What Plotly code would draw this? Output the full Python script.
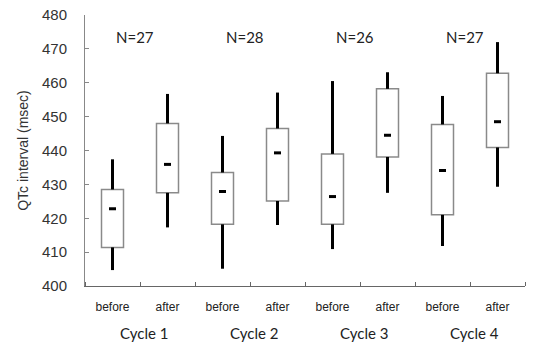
import plotly.graph_objects as go

cycles = ["Cycle 1", "Cycle 2", "Cycle 3", "Cycle 4"]
n_labels = ["N=27", "N=28", "N=26", "N=27"]
phases = ["before", "after"] * 4
whisker_low = [404.7, 417.3, 405.1, 418.0, 410.9, 427.5, 411.8, 429.3]
q1 = [411.4, 427.5, 418.2, 425.1, 418.2, 438.1, 421.0, 440.9]
median = [422.8, 435.9, 427.9, 439.3, 426.4, 444.5, 434.1, 448.5]
q3 = [428.5, 448.0, 433.5, 446.5, 439.0, 458.2, 447.7, 462.8]
whisker_high = [437.4, 456.7, 444.3, 457.1, 460.5, 463.1, 456.1, 472.0]

xpos = list(range(len(phases)))

fig = go.Figure()

# whiskers (upper and lower segments)
wx, wy = [], []
for i in xpos:
    wx += [i, i, None, i, i, None]
    wy += [q3[i], whisker_high[i], None, whisker_low[i], q1[i], None]
fig.add_trace(go.Scatter(x=wx, y=wy, mode="lines",
                         line=dict(color="black", width=3), hoverinfo="skip"))

# boxes
fig.add_trace(go.Bar(x=xpos, base=q1, y=[b - a for a, b in zip(q1, q3)],
                     width=0.4, marker=dict(color="white",
                                            line=dict(color="#8a8a8a", width=1.5))))

# median marks
fig.add_trace(go.Scatter(x=xpos, y=median, mode="markers",
                         marker=dict(symbol="line-ew-open", size=5, color="black",
                                     line=dict(color="black", width=3))))

for k, c in enumerate(cycles):
    center = 2 * k + 0.5
    fig.add_annotation(x=center - 0.1, y=473.5, text=n_labels[k], showarrow=False,
                       xref="x", yref="y", yanchor="middle",
                       font=dict(family="Lato", size=15, color="#222"))
    fig.add_annotation(x=center + 0.08, y=0, yref="paper", yshift=-47, text=c,
                       showarrow=False, xref="x", yanchor="middle",
                       font=dict(family="Lato", size=15, color="#222"))

fig.update_layout(
    width=542, height=342, showlegend=False,
    plot_bgcolor="white", paper_bgcolor="white",
    margin=dict(l=85, r=17, t=15, b=56),
    xaxis=dict(range=[-0.5, 7.5], tickvals=xpos, ticktext=phases, ticks="",
               ticklabelstandoff=10, automargin=False,
               showgrid=False, zeroline=False, showline=True,
               linecolor="#666", linewidth=1,
               tickfont=dict(family="Liberation Sans", size=12, color="#222"),
               minor=dict(tick0=0.5, dtick=1, ticks="inside", ticklen=4,
                          tickcolor="#666", showgrid=False)),
    yaxis=dict(range=[400, 480], dtick=10, ticks="inside", ticklen=4,
               ticklabelstandoff=14, automargin=False,
               tickcolor="#888", showgrid=False, zeroline=False, showline=True,
               linecolor="#888", linewidth=1,
               tickfont=dict(family="Liberation Sans", size=15, color="#333"),
               title=dict(text="QTc interval (msec)", standoff=10,
                          font=dict(family="Liberation Sans", size=14, color="#333"))),
)

fig.write_html("out.html", config={"displayModeBar": False},
               post_script="document.body.style.margin='0';")
